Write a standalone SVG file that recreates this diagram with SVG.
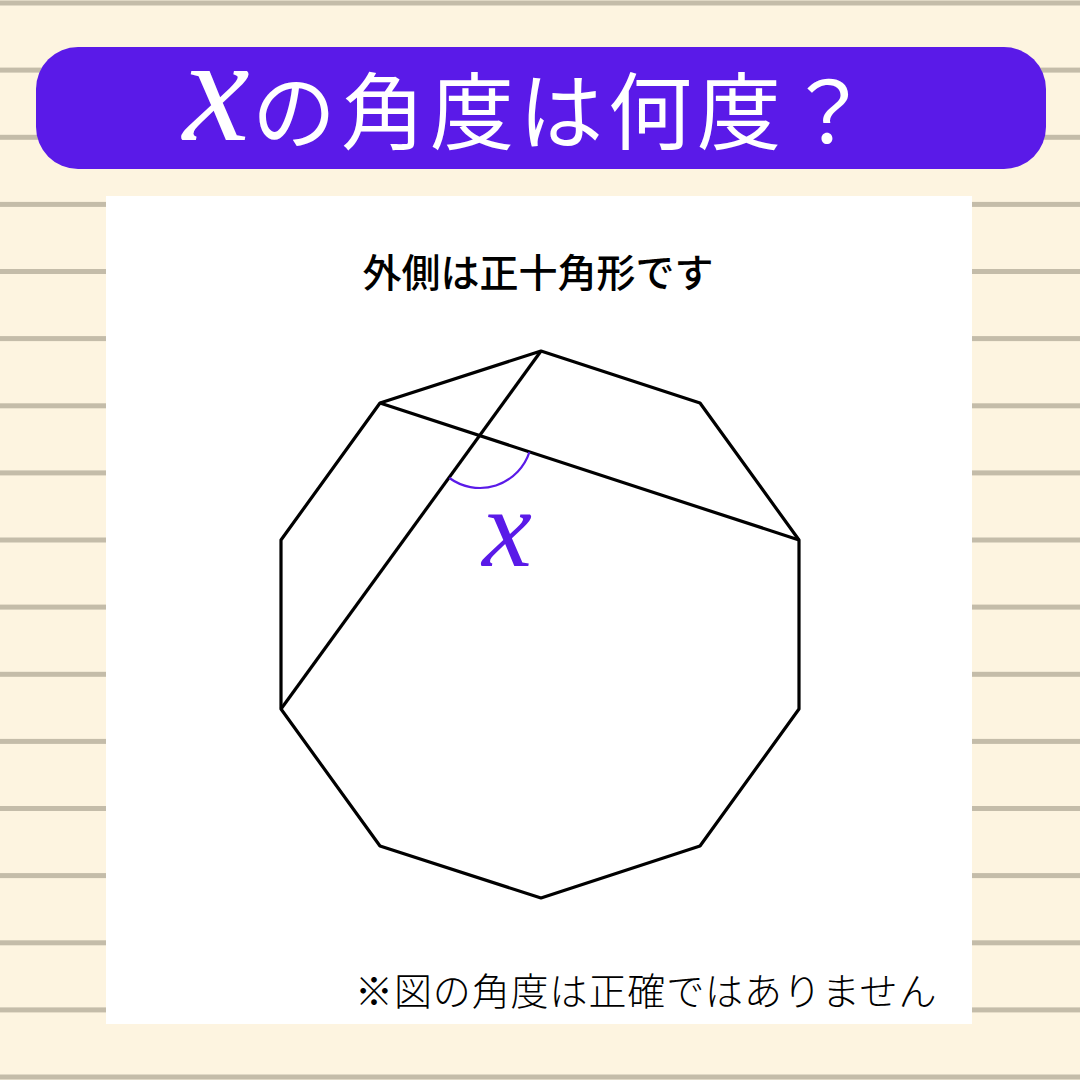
<svg xmlns="http://www.w3.org/2000/svg" width="1080" height="1080" viewBox="0 0 1080 1080">
<style>
.rule{fill:#c4bca9}
.poly{fill:none;stroke:#000;stroke-width:3.2;stroke-linejoin:round}
.jp{font-family:"Noto Sans CJK JP","Noto Sans",sans-serif}
.mx{font-family:"Liberation Serif",serif;font-style:italic}
</style>
<rect width="1080" height="1080" fill="#fdf4e0"/>
<g id="rules">
<rect class="rule" x="0" y="0.5" width="1080" height="5"/>
<rect class="rule" x="0" y="67.6" width="1080" height="5"/>
<rect class="rule" x="0" y="134.8" width="1080" height="5"/>
<rect class="rule" x="0" y="201.9" width="1080" height="5"/>
<rect class="rule" x="0" y="269" width="1080" height="5"/>
<rect class="rule" x="0" y="336.1" width="1080" height="5"/>
<rect class="rule" x="0" y="403.3" width="1080" height="5"/>
<rect class="rule" x="0" y="470.4" width="1080" height="5"/>
<rect class="rule" x="0" y="537.5" width="1080" height="5"/>
<rect class="rule" x="0" y="604.6" width="1080" height="5"/>
<rect class="rule" x="0" y="671.8" width="1080" height="5"/>
<rect class="rule" x="0" y="738.9" width="1080" height="5"/>
<rect class="rule" x="0" y="806" width="1080" height="5"/>
<rect class="rule" x="0" y="873.1" width="1080" height="5"/>
<rect class="rule" x="0" y="940.3" width="1080" height="5"/>
<rect class="rule" x="0" y="1007.4" width="1080" height="5"/>
<rect class="rule" x="0" y="1074.5" width="1080" height="5"/>
</g>
<g id="title">
<rect x="36" y="47" width="1010" height="122" rx="42" fill="#5a1ae8"/>
<text x="183" y="140" font-size="150" fill="#fff" class="mx">x</text>
<text x="252" y="143" font-size="84" letter-spacing="5" fill="#fff" class="jp">の角度は何度？</text>
</g>
<g id="panel">
<rect x="106" y="196" width="866" height="828" fill="#fff"/>
<text x="538" y="287" font-size="39" font-weight="500" text-anchor="middle" class="jp" fill="#000">外側は正十角形です</text>
<text x="355" y="1005" font-size="38" letter-spacing="0.9" font-weight="300" class="jp" fill="#000">※図の角度は正確ではありません</text>
</g>
<g id="decagon">
<polygon class="poly" points="541,351 700,403 799,540 799,709 700,846 541,898 380,846 281,709 281,540 380,403"/>
</g>
<g id="connectors">
<line class="poly" x1="541" y1="351" x2="281" y2="709"/>
<line class="poly" x1="380" y1="403" x2="799" y2="540"/>
</g>
<g id="angle">
<path d="M449.4 478 A52 52 0 0 0 529.4 452.2" fill="none" stroke="#5a1ae8" stroke-width="2.2"/>
<text x="507" y="566" font-size="112" fill="#5a1ae8" text-anchor="middle" class="mx">x</text>
</g>
</svg>
